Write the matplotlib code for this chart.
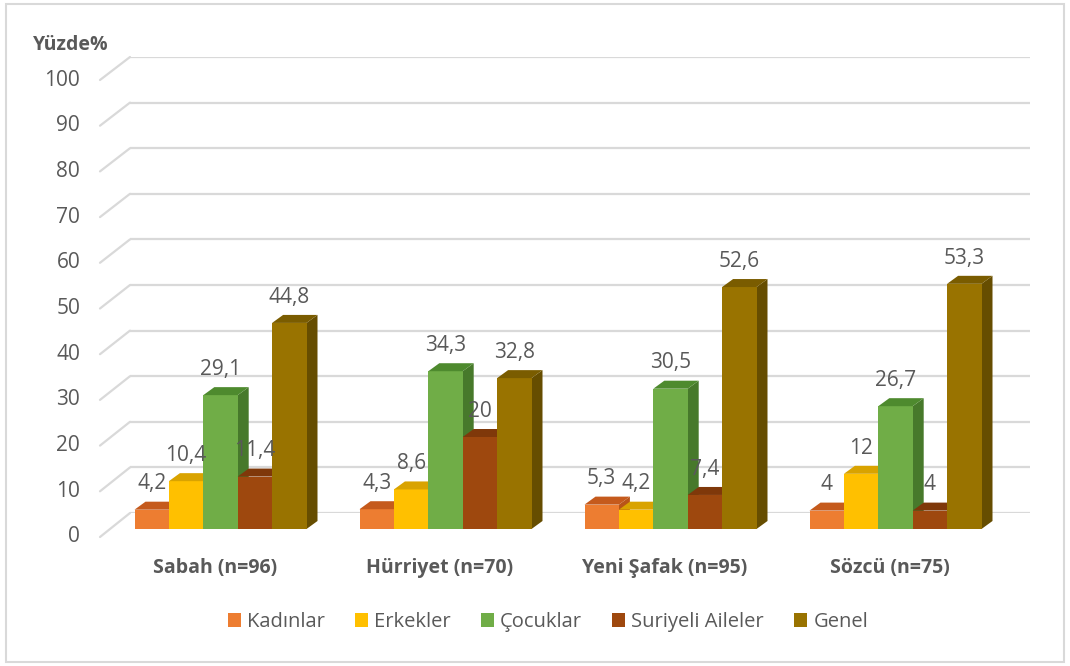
import numpy as np
import matplotlib
matplotlib.use('Agg')
import matplotlib.pyplot as plt
import matplotlib.transforms as mtransforms
from matplotlib.patches import Polygon, Patch, Rectangle, ConnectionPatch

plt.rcParams['font.family'] = ['Open Sans', 'DejaVu Sans']

# veriler
kategoriler = ['Sabah (n=96)', 'Hürriyet (n=70)', 'Yeni Şafak (n=95)', 'Sözcü (n=75)']
seriler = ['Kadınlar', 'Erkekler', 'Çocuklar', 'Suriyeli Aileler', 'Genel']
kadinlar = [4.2, 4.3, 5.3, 4]
erkekler = [10.4, 8.6, 4.2, 12]
cocuklar = [29.1, 34.3, 30.5, 26.7]
suriyeli = [11.4, 20, 7.4, 4]
genel = [44.8, 32.8, 52.6, 53.3]
degerler = [kadinlar, erkekler, cocuklar, suriyeli, genel]
yticks = [0, 10, 20, 30, 40, 50, 60, 70, 80, 90, 100]

# renkler: (ön, üst, yan)
renkler = [('#ED7D31', '#C55A1C', '#B85418'),
           ('#FFC000', '#D9A300', '#C79500'),
           ('#70AD47', '#4E8A2E', '#47792B'),
           ('#9E480E', '#7F380A', '#6E3008'),
           ('#997300', '#7A5C00', '#664D00')]
metin = '#595959'

W, H = 1070, 666
fig = plt.figure(figsize=(W / 100, H / 100), dpi=100)

def px_axes(left, right, y0, y100):
    # piksel koordinatlarından eksen konumu
    return [left / W, 1 - y0 / H, (right - left) / W, (y0 - y100) / H]

# ön taban (etiketler), çubuklar, arka duvar
ax_on = fig.add_axes(px_axes(100, 1000, 537, 80))
ax_duvar = fig.add_axes(px_axes(130, 1030, 513, 57))
ax = fig.add_axes(px_axes(108, 1008, 529, 69))
for a in (ax_on, ax_duvar, ax):
    a.set_ylim(0, 100)
    a.set_xlim(-0.5, 3.5)
    a.axis('off')
    a.patch.set_alpha(0)

# duvar ızgarası
for v in yticks:
    ax_duvar.axhline(v, color='#D9D9D9', lw=1.6, zorder=0)
    con = ConnectionPatch(
        xyA=(0, v), coordsA=mtransforms.blended_transform_factory(ax_on.transAxes, ax_on.transData),
        xyB=(0, v), coordsB=mtransforms.blended_transform_factory(ax_duvar.transAxes, ax_duvar.transData),
        color='#D9D9D9', lw=1.6, zorder=0)
    fig.add_artist(con)
    ax_on.text(-0.022, v, str(v), transform=mtransforms.blended_transform_factory(ax_on.transAxes, ax_on.transData),
               ha='right', va='center', fontsize=15, color=metin)

# çubuklar
x = np.arange(len(kategoriler))
w = 34.4 / 225
dx = 11 / 225
dy = 8 / 4.6
for i, (seri, vals) in enumerate(zip(seriler, degerler)):
    on, ust, yan = renkler[i]
    xs = x + (i - 2) * w
    bars = ax.bar(xs, vals, width=w, color=on, zorder=10 + i, label=seri)
    for b, v in zip(bars, vals):
        x0 = b.get_x()
        x1 = x0 + b.get_width()
        h = b.get_height()
        ax.add_patch(Polygon([(x0, h), (x1, h), (x1 + dx, h + dy), (x0 + dx, h + dy)],
                             closed=True, facecolor=ust, edgecolor='none', zorder=10 + i))
        ax.add_patch(Polygon([(x1, 0), (x1 + dx, dy), (x1 + dx, h + dy), (x1, h)],
                             closed=True, facecolor=yan, edgecolor='none', zorder=9.5 + i))
        etiket = str(int(v)) if v == int(v) else str(v).replace('.', ',')
        ax.annotate(etiket, (b.get_x() + w / 2, h), xytext=(0, 11), textcoords='offset points',
                    ha='center', va='bottom', fontsize=15, color=metin, zorder=30)

# kategori etiketleri
for xi, k in zip(x, kategoriler):
    ax.annotate(k, (xi, 0), xytext=(-4, -28), textcoords='offset points',
                ha='center', va='center', fontsize=14, fontweight='bold', color=metin)

fig.text(33 / W, 1 - 45 / H, 'Yüzde%', fontsize=14, fontweight='bold', color=metin,
         ha='left', va='center')

handles = [Patch(facecolor=renkler[i][0], label=s) for i, s in enumerate(seriler)]
fig.legend(handles=handles, loc='center', bbox_to_anchor=(0.512, 1 - 622 / H), ncol=5,
           frameon=False, fontsize=14.5, handlelength=0.65, handleheight=0.65,
           handletextpad=0.3, columnspacing=1.5, labelcolor=metin)

fig.add_artist(Rectangle((0.006, 0.006), 0.988, 0.988, transform=fig.transFigure,
                         fill=False, edgecolor='#D9D9D9', lw=1.5))

fig.savefig('out.png', dpi=100, facecolor='white')
